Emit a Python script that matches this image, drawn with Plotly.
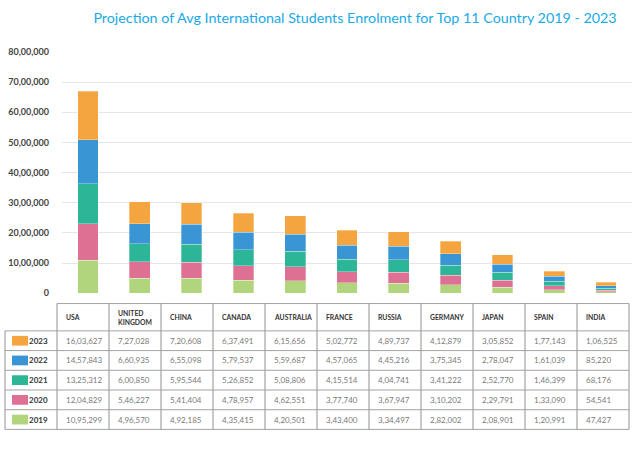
import plotly.graph_objects as go

countries = ["USA", "UNITED KINGDOM", "CHINA", "CANADA", "AUSTRALIA", "FRANCE",
             "RUSSIA", "GERMANY", "JAPAN", "SPAIN", "INDIA"]
header_labels = ["USA", "UNITED<br>KINGDOM", "CHINA", "CANADA", "AUSTRALIA", "FRANCE",
                 "RUSSIA", "GERMANY", "JAPAN", "SPAIN", "INDIA"]
years = ["2019", "2020", "2021", "2022", "2023"]
v2019 = [1095299, 496570, 492185, 435415, 420501, 343400, 334497, 282002, 208901, 120991, 47427]
v2020 = [1204829, 546227, 541404, 478957, 462551, 377740, 367947, 310202, 229791, 133090, 54541]
v2021 = [1325312, 600850, 595544, 526852, 508806, 415514, 404741, 341222, 252770, 146399, 68176]
v2022 = [1457843, 660935, 655098, 579537, 559687, 457065, 445216, 375345, 278047, 161039, 85220]
v2023 = [1603627, 727028, 720608, 637491, 615656, 502772, 489737, 412879, 305852, 177143, 106525]
series = [v2019, v2020, v2021, v2022, v2023]
colors = ["#b0d57c", "#de7094", "#2db597", "#3a95d5", "#f5a540"]
y_ticks = [0, 1000000, 2000000, 3000000, 4000000, 5000000, 6000000, 7000000, 8000000]

W, H = 640, 451
# table geometry (pixels)
T_LEFT, C0_W, COL_W = 5, 52, 52
T_TOP, HEADER_H, ROW_H = 305, 28, 20.2
LINE_COL = "#a3a3a3"


def indian(n):
    s = str(int(n))
    if len(s) <= 3:
        return s
    last3 = s[-3:]
    rest = s[:-3]
    parts = []
    while len(rest) > 2:
        parts.insert(0, rest[-2:])
        rest = rest[:-2]
    if rest:
        parts.insert(0, rest)
    return ",".join(parts) + "," + last3


def px_x(p):
    return p / W


def px_y(p):
    return 1 - p / H


fig = go.Figure()
for yr, vals, col in zip(years, series, colors):
    fig.add_trace(go.Bar(
        x=countries, y=vals, name=yr,
        marker=dict(color=col, line=dict(color="rgba(255,255,255,0.6)", width=0.5)),
        width=0.4, showlegend=False,
    ))

# ---- data table drawn with shapes + annotations ----
row_order = list(range(len(years)))[::-1]  # 2023 .. 2019
n_rows = len(row_order)
n_cols = len(countries)
col_left = [T_LEFT + C0_W + COL_W * c for c in range(n_cols)]
t_right = col_left[-1] + COL_W
body_top = T_TOP + HEADER_H
t_bottom = body_top + ROW_H * n_rows

shapes = []
annotations = []


def hline(x0, x1, y):
    shapes.append(dict(type="line", xref="paper", yref="paper", layer="above",
                       x0=px_x(x0), x1=px_x(x1), y0=px_y(y), y1=px_y(y),
                       line=dict(color=LINE_COL, width=1)))


def vline(x, y0, y1):
    shapes.append(dict(type="line", xref="paper", yref="paper", layer="above",
                       x0=px_x(x), x1=px_x(x), y0=px_y(y0), y1=px_y(y1),
                       line=dict(color=LINE_COL, width=1.2)))


hline(col_left[0], t_right, T_TOP)
for r in range(n_rows + 1):
    hline(T_LEFT, t_right, body_top + ROW_H * r)
vline(T_LEFT, body_top, t_bottom)
for c in range(n_cols):
    vline(col_left[c], T_TOP, t_bottom)
vline(t_right, T_TOP, t_bottom)

# header labels
for c, lab in enumerate(header_labels):
    annotations.append(dict(xref="paper", yref="paper", x=px_x(col_left[c] + 7),
                            y=px_y(T_TOP + HEADER_H / 2), xanchor="left", yanchor="middle",
                            align="left", showarrow=False, text=f"<b>{lab}</b>",
                            font=dict(family="Lato", size=6.8, color="#333333")))

# body
for k, i in enumerate(row_order):
    cy = body_top + ROW_H * (k + 0.5)
    shapes.append(dict(type="rect", xref="paper", yref="paper", layer="above",
                       x0=px_x(12), x1=px_x(28), y0=px_y(cy + 5), y1=px_y(cy - 5),
                       fillcolor=colors[i], line=dict(width=0)))
    annotations.append(dict(xref="paper", yref="paper", x=px_x(50), y=px_y(cy),
                            xanchor="right", yanchor="middle", showarrow=False,
                            text=f"<b>{years[i]}</b>",
                            font=dict(family="Lato", size=8, color="#333333")))
    for c in range(n_cols):
        annotations.append(dict(xref="paper", yref="paper", x=px_x(col_left[c] + 7),
                                y=px_y(cy), xanchor="left", yanchor="middle",
                                showarrow=False, text=indian(series[i][c]),
                                font=dict(family="Lato", size=8, color="#7a7a7a")))

fig.update_layout(
    width=W, height=H,
    margin=dict(l=0, r=0, t=0, b=0),
    paper_bgcolor="white", plot_bgcolor="white",
    barmode="stack",
    shapes=shapes,
    annotations=annotations,
    title=dict(
        text="Projection of Avg International Students Enrolment for Top 11 Country 2019 - 2023",
        x=355 / W, xanchor="center", y=px_y(18), yanchor="middle",
        font=dict(family="Lato", size=14.3, color="#1aaae6"),
    ),
    xaxis=dict(domain=[px_x(62), px_x(632)], showticklabels=False, showgrid=False,
               zeroline=False, showline=False, range=[-0.5, 10.5]),
    yaxis=dict(domain=[px_y(294.5), px_y(47)], range=[0, 8000000],
               tickvals=y_ticks, ticktext=[indian(v) for v in y_ticks],
               showgrid=True, gridcolor="#e6e6e6", gridwidth=1,
               zeroline=False, ticklabelstandoff=12,
               tickfont=dict(family="Lato", size=9, color="#444444", weight="bold")),
)

fig.write_html("out.html", config={"displayModeBar": False},
               post_script="document.body.style.margin='0px';")
